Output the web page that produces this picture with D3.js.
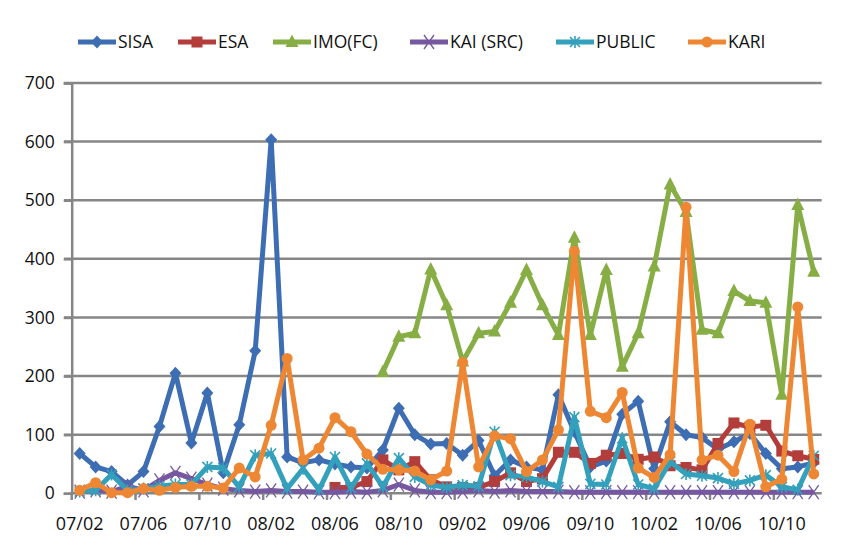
<!DOCTYPE html>
<html>
<head>
<meta charset="utf-8">
<script src="https://cdn.jsdelivr.net/npm/d3@7"></script>
<style>
body { margin: 0; background: #fff; }
text { font-family: "Open Sans", sans-serif; fill: #111; }
</style>
</head>
<body>
<div class="chart"></div>
<script>
const months = ["07/02","07/03","07/04","07/05","07/06","07/07","07/08","07/09","07/10","07/11","07/12",
    "08/01","08/02","08/03","08/04","08/05","08/06","08/07","08/08","08/09","08/10","08/11","08/12",
    "09/01","09/02","09/03","09/04","09/05","09/06","09/07","09/08","09/09","09/10","09/11","09/12",
    "10/01","10/02","10/03","10/04","10/05","10/06","10/07","10/08","10/09","10/10","10/11","10/12"];
const labelMonths = ["07/02","07/06","07/10","08/02","08/06","08/10","09/02","09/06","09/10","10/02","10/06","10/10"];
const yTicks = [0, 100, 200, 300, 400, 500, 600, 700];

const sisa = [68,45,37,14,37,114,205,86,171,35,117,243,603,62,52,57,50,45,43,74,145,100,84,85,65,90,30,57,45,40,168,105,45,55,135,157,42,122,100,95,75,88,102,68,42,45,52];
const esa = [null,null,null,null,null,null,null,null,null,null,null,null,null,null,null,null,10,10,20,57,40,54,23,11,10,10,20,35,20,25,70,70,51,65,68,58,62,47,44,40,85,120,113,116,72,64,58];
const imo = [null,null,null,null,null,null,null,null,null,null,null,null,null,null,null,null,null,null,null,207,267,273,382,321,225,273,276,325,381,321,270,436,270,381,216,273,387,527,480,279,273,345,328,325,168,492,378];
const kai = [3,5,3,12,5,22,35,25,15,8,5,3,5,3,3,2,2,3,2,5,15,5,2,2,3,5,3,5,3,3,3,2,2,2,2,2,2,2,2,2,2,2,2,2,2,2,2];
const pub = [3,5,32,5,8,12,15,15,45,43,11,65,68,8,42,6,62,9,51,11,60,28,14,10,14,12,105,31,28,20,11,130,16,15,94,15,8,54,33,30,26,16,22,31,11,6,64];
const kari = [5,18,1,1,8,5,10,12,12,9,43,28,116,230,57,77,129,105,67,41,40,38,23,38,223,45,98,93,37,57,108,413,140,129,172,43,27,66,488,57,65,37,118,11,24,318,33];

const seriesNames = ["SISA", "ESA", "IMO(FC)", "KAI (SRC)", "PUBLIC", "KARI"];
const seriesValues = [sisa, esa, imo, kai, pub, kari];
const colors = ["#3D6DB3", "#B23D3A", "#86AE45", "#7558A0", "#33A0BC", "#EE8733"];
const markers = ["diamond", "square", "triangle", "x", "star", "circle"];

const width = 858;
const height = 544;
const svg = d3.select(".chart").append("svg").attr("width", width).attr("height", height);

const x = d3.scaleBand().domain(months).range([71.7, 821.7]).padding(0);
const y = d3.scaleLinear().domain([0, 700]).range([493.3, 83]);
const cx = d => x(d) + x.bandwidth() / 2;

// grid
svg.append("g").selectAll("line")
    .data(yTicks.slice(1))
    .join("line")
    .attr("x1", 64).attr("x2", 821.7)
    .attr("y1", d => y(d)).attr("y2", d => y(d))
    .attr("stroke", "#868686").attr("stroke-width", 2.5);

// y axis
const yAxis = svg.append("g").attr("transform", "translate(71.7,0)")
    .call(d3.axisLeft(y).tickValues(yTicks).tickSize(8).tickPadding(9));
yAxis.select(".domain").attr("stroke", "#868686").attr("stroke-width", 2.5);
yAxis.selectAll(".tick line").attr("stroke", "#868686").attr("stroke-width", 2.5);
yAxis.selectAll("text").style("font-size", "17.5px").attr("fill", "#111");

// x axis
const xAxis = svg.append("g").attr("transform", "translate(0,493.3)")
    .call(d3.axisBottom(x).tickValues(labelMonths).tickSize(0).tickPadding(24));
xAxis.select(".domain").remove();
xAxis.selectAll("text").style("font-size", "18px").attr("fill", "#111");
svg.append("line").attr("x1", 70).attr("x2", 821.7).attr("y1", 493.3).attr("y2", 493.3)
    .attr("stroke", "#868686").attr("stroke-width", 2.5);
svg.append("g").selectAll("line")
    .data(months.filter((d, i) => i % 4 === 0))
    .join("line")
    .attr("x1", d => x(d)).attr("x2", d => x(d))
    .attr("y1", 493.3).attr("y2", 500)
    .attr("stroke", "#868686").attr("stroke-width", 2.5);

function drawMarker(g, type, color) {
    if (type === "diamond") {
        g.append("path").attr("d", "M0,-6.5L6,0L0,6.5L-6,0Z").attr("fill", color);
    } else if (type === "square") {
        g.append("rect").attr("x", -5.5).attr("y", -5.5).attr("width", 11).attr("height", 11).attr("fill", color);
    } else if (type === "triangle") {
        g.append("path").attr("d", "M0,-7.5L6.5,5L-6.5,5Z").attr("fill", color);
    } else if (type === "circle") {
        g.append("circle").attr("r", 5.5).attr("fill", color);
    } else if (type === "x") {
        g.append("path").attr("d", "M-5,-7L5,7M-5,7L5,-7").attr("stroke", color).attr("stroke-width", 1.3).attr("fill", "none");
    } else if (type === "star") {
        g.append("path").attr("d", "M-5,-5L5,5M-5,5L5,-5M0,-6L0,6").attr("stroke", color).attr("stroke-width", 1.6).attr("fill", "none");
    }
}

const line = d3.line()
    .defined(d => d.v !== null)
    .x(d => cx(d.m))
    .y(d => y(d.v));

seriesValues.forEach((vals, s) => {
    const pts = vals.map((v, i) => ({ m: months[i], v: v }));
    const g = svg.append("g");
    g.append("path")
        .attr("d", line(pts))
        .attr("fill", "none")
        .attr("stroke", colors[s])
        .attr("stroke-width", 5)
        .attr("stroke-linejoin", "round");
    g.selectAll("g.mk")
        .data(pts.filter(d => d.v !== null))
        .join("g")
        .attr("class", "mk")
        .attr("transform", d => "translate(" + cx(d.m) + "," + y(d.v) + ")")
        .each(function () { drawMarker(d3.select(this), markers[s], colors[s]); });
});

// legend
const legendX = [78, 178, 273, 410, 556, 688];
const legend = svg.append("g");
seriesNames.forEach((name, s) => {
    const lg = legend.append("g").attr("transform", "translate(" + legendX[s] + ",42)");
    lg.append("line").attr("x1", 0).attr("x2", 38).attr("y1", 0).attr("y2", 0)
        .attr("stroke", colors[s]).attr("stroke-width", 5);
    drawMarker(lg.append("g").attr("transform", "translate(19,0)"), markers[s], colors[s]);
    lg.append("text").attr("x", 40).attr("y", 0).attr("dy", "0.35em")
        .style("font-size", "17.5px").text(name);
});
</script>
</body>
</html>
